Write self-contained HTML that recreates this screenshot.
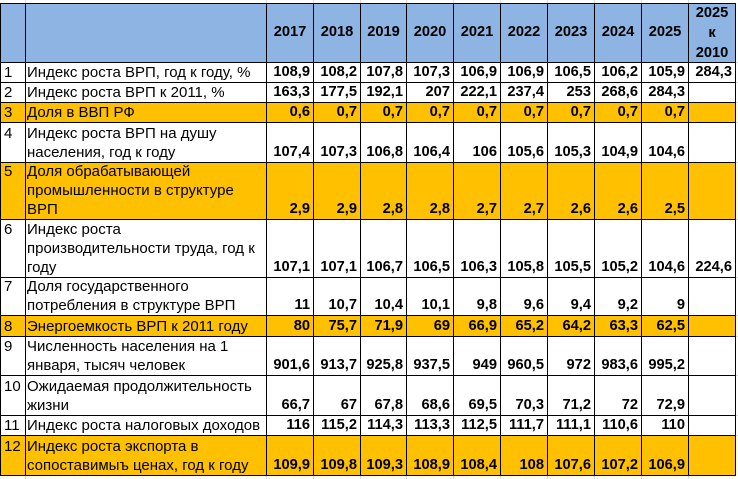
<!DOCTYPE html>
<html><head><meta charset="utf-8">
<style>
html,body{margin:0;padding:0}
body{width:738px;height:479px;background:#fff;position:relative;overflow:hidden;font-family:"Liberation Sans",Arial,sans-serif;font-size:14.67px;color:#000}
.bg{position:absolute;left:0;width:736px}
.hl{position:absolute;left:0;width:736px;height:1px;background:#000}
.vl{position:absolute;top:3px;height:473px;width:1px;background:#000}
.gv{position:absolute;width:1px;background:#d9dcdf}
.gh{position:absolute;height:1px;background:#d9dcdf;left:736px;width:2px}
.row{position:absolute;left:0;width:738px;height:19px;line-height:19px;white-space:nowrap}
.row span{position:absolute;top:0;text-align:right;font-weight:bold}
.row .lb{position:absolute;left:27px;top:auto;bottom:0;text-align:left;font-weight:normal;font-size:15px;font-style:normal}
.row .rn{position:absolute;left:4px;text-align:left;font-weight:normal;font-size:15px;font-style:normal}
.c0{left:267px;width:43px}.c1{left:314px;width:43px}.c2{left:361px;width:42px}.c3{left:407px;width:43px}.c4{left:454px;width:43px}
.c5{left:501px;width:43px}.c6{left:548px;width:43px}.c7{left:595px;width:43px}.c8{left:642px;width:43px}.c9{left:689px;width:43px}
.hd{position:absolute;font-weight:bold;text-align:center;line-height:19px;top:23px}
</style></head><body>
<div class="bg" style="top:3px;height:59px;background:#8db4e2"></div>
<div class="bg" style="top:102px;height:20px;background:#ffc000"></div>
<div class="bg" style="top:162px;height:57px;background:#ffc000"></div>
<div class="bg" style="top:315px;height:21px;background:#ffc000"></div>
<div class="bg" style="top:435px;height:40px;background:#ffc000"></div>

<div class="gv" style="left:25px;top:0;height:3px"></div><div class="gv" style="left:266px;top:0;height:3px"></div>
<div class="gv" style="left:313px;top:0;height:3px"></div><div class="gv" style="left:360px;top:0;height:3px"></div>
<div class="gv" style="left:406px;top:0;height:3px"></div><div class="gv" style="left:453px;top:0;height:3px"></div>
<div class="gv" style="left:500px;top:0;height:3px"></div><div class="gv" style="left:547px;top:0;height:3px"></div>
<div class="gv" style="left:594px;top:0;height:3px"></div><div class="gv" style="left:641px;top:0;height:3px"></div>
<div class="gv" style="left:688px;top:0;height:3px"></div>
<div class="gv" style="left:25px;top:476px;height:3px"></div><div class="gv" style="left:266px;top:476px;height:3px"></div>
<div class="gv" style="left:313px;top:476px;height:3px"></div><div class="gv" style="left:360px;top:476px;height:3px"></div>
<div class="gv" style="left:406px;top:476px;height:3px"></div><div class="gv" style="left:453px;top:476px;height:3px"></div>
<div class="gv" style="left:500px;top:476px;height:3px"></div><div class="gv" style="left:547px;top:476px;height:3px"></div>
<div class="gv" style="left:594px;top:476px;height:3px"></div><div class="gv" style="left:641px;top:476px;height:3px"></div>
<div class="gv" style="left:688px;top:476px;height:3px"></div>
<div class="gh" style="top:62px"></div><div class="gh" style="top:82px"></div><div class="gh" style="top:102px"></div>
<div class="gh" style="top:122px"></div><div class="gh" style="top:162px"></div><div class="gh" style="top:219px"></div>
<div class="gh" style="top:277px"></div><div class="gh" style="top:315px"></div><div class="gh" style="top:336px"></div>
<div class="gh" style="top:375px"></div><div class="gh" style="top:415px"></div><div class="gh" style="top:435px"></div>

<div class="hl" style="top:3px"></div><div class="hl" style="top:62px"></div><div class="hl" style="top:82px"></div>
<div class="hl" style="top:102px"></div><div class="hl" style="top:122px"></div><div class="hl" style="top:162px"></div>
<div class="hl" style="top:219px"></div><div class="hl" style="top:277px"></div><div class="hl" style="top:315px"></div>
<div class="hl" style="top:336px"></div><div class="hl" style="top:375px"></div><div class="hl" style="top:415px"></div>
<div class="hl" style="top:435px"></div><div class="hl" style="top:475px"></div>
<div class="vl" style="left:0"></div><div class="vl" style="left:25px"></div><div class="vl" style="left:266px"></div>
<div class="vl" style="left:313px"></div><div class="vl" style="left:360px"></div><div class="vl" style="left:406px"></div>
<div class="vl" style="left:453px"></div><div class="vl" style="left:500px"></div><div class="vl" style="left:547px"></div>
<div class="vl" style="left:594px"></div><div class="vl" style="left:641px"></div><div class="vl" style="left:688px"></div>
<div class="vl" style="left:735px"></div>

<div class="hd" style="left:267px;width:46px">2017</div>
<div class="hd" style="left:314px;width:46px">2018</div>
<div class="hd" style="left:361px;width:45px">2019</div>
<div class="hd" style="left:407px;width:46px">2020</div>
<div class="hd" style="left:454px;width:46px">2021</div>
<div class="hd" style="left:501px;width:46px">2022</div>
<div class="hd" style="left:548px;width:46px">2023</div>
<div class="hd" style="left:595px;width:46px">2024</div>
<div class="hd" style="left:642px;width:46px">2025</div>
<div class="hd" style="left:689px;width:46px;top:3px;line-height:20px">2025<br>к<br>2010</div>

<div class="row" style="top:63px"><i class="rn">1</i><i class="lb">Индекс роста ВРП, год к году, %</i>
<span class="c0">108,9</span><span class="c1">108,2</span><span class="c2">107,8</span><span class="c3">107,3</span><span class="c4">106,9</span><span class="c5">106,9</span><span class="c6">106,5</span><span class="c7">106,2</span><span class="c8">105,9</span><span class="c9">284,3</span></div>

<div class="row" style="top:83px"><i class="rn">2</i><i class="lb">Индекс роста ВРП к 2011, %</i>
<span class="c0">163,3</span><span class="c1">177,5</span><span class="c2">192,1</span><span class="c3">207</span><span class="c4">222,1</span><span class="c5">237,4</span><span class="c6">253</span><span class="c7">268,6</span><span class="c8">284,3</span></div>

<div class="row" style="top:103px"><i class="rn">3</i><i class="lb">Доля в ВВП РФ</i>
<span class="c0">0,6</span><span class="c1">0,7</span><span class="c2">0,7</span><span class="c3">0,7</span><span class="c4">0,7</span><span class="c5">0,7</span><span class="c6">0,7</span><span class="c7">0,7</span><span class="c8">0,7</span></div>

<div class="row" style="top:143px"><i class="rn" style="top:-19px">4</i><i class="lb">Индекс роста ВРП на душу<br>населения, год к году</i>
<span class="c0">107,4</span><span class="c1">107,3</span><span class="c2">106,8</span><span class="c3">106,4</span><span class="c4">106</span><span class="c5">105,6</span><span class="c6">105,3</span><span class="c7">104,9</span><span class="c8">104,6</span></div>

<div class="row" style="top:200px"><i class="rn" style="top:-38px">5</i><i class="lb">Доля обрабатывающей<br>промышленности в структуре<br>ВРП</i>
<span class="c0">2,9</span><span class="c1">2,9</span><span class="c2">2,8</span><span class="c3">2,8</span><span class="c4">2,7</span><span class="c5">2,7</span><span class="c6">2,6</span><span class="c7">2,6</span><span class="c8">2,5</span></div>

<div class="row" style="top:258px"><i class="rn" style="top:-38px">6</i><i class="lb">Индекс роста<br>производительности труда, год к<br>году</i>
<span class="c0">107,1</span><span class="c1">107,1</span><span class="c2">106,7</span><span class="c3">106,5</span><span class="c4">106,3</span><span class="c5">105,8</span><span class="c6">105,5</span><span class="c7">105,2</span><span class="c8">104,6</span><span class="c9">224,6</span></div>

<div class="row" style="top:296px"><i class="rn" style="top:-19px">7</i><i class="lb">Доля государственного<br>потребления в структуре ВРП</i>
<span class="c0">11</span><span class="c1">10,7</span><span class="c2">10,4</span><span class="c3">10,1</span><span class="c4">9,8</span><span class="c5">9,6</span><span class="c6">9,4</span><span class="c7">9,2</span><span class="c8">9</span></div>

<div class="row" style="top:317px"><i class="rn">8</i><i class="lb">Энергоемкость ВРП к 2011 году</i>
<span class="c0">80</span><span class="c1">75,7</span><span class="c2">71,9</span><span class="c3">69</span><span class="c4">66,9</span><span class="c5">65,2</span><span class="c6">64,2</span><span class="c7">63,3</span><span class="c8">62,5</span></div>

<div class="row" style="top:356px"><i class="rn" style="top:-19px">9</i><i class="lb">Численность населения на 1<br>января, тысяч человек</i>
<span class="c0">901,6</span><span class="c1">913,7</span><span class="c2">925,8</span><span class="c3">937,5</span><span class="c4">949</span><span class="c5">960,5</span><span class="c6">972</span><span class="c7">983,6</span><span class="c8">995,2</span></div>

<div class="row" style="top:396px"><i class="rn" style="top:-19px">10</i><i class="lb">Ожидаемая продолжительность<br>жизни</i>
<span class="c0">66,7</span><span class="c1">67</span><span class="c2">67,8</span><span class="c3">68,6</span><span class="c4">69,5</span><span class="c5">70,3</span><span class="c6">71,2</span><span class="c7">72</span><span class="c8">72,9</span></div>

<div class="row" style="top:416px"><i class="rn">11</i><i class="lb">Индекс роста налоговых доходов</i>
<span class="c0">116</span><span class="c1">115,2</span><span class="c2">114,3</span><span class="c3">113,3</span><span class="c4">112,5</span><span class="c5">111,7</span><span class="c6">111,1</span><span class="c7">110,6</span><span class="c8">110</span></div>

<div class="row" style="top:456px"><i class="rn" style="top:-19px">12</i><i class="lb">Индекс роста экспорта в<br>сопоставимыъ ценах, год к году</i>
<span class="c0">109,9</span><span class="c1">109,8</span><span class="c2">109,3</span><span class="c3">108,9</span><span class="c4">108,4</span><span class="c5">108</span><span class="c6">107,6</span><span class="c7">107,2</span><span class="c8">106,9</span></div>
</body></html>
